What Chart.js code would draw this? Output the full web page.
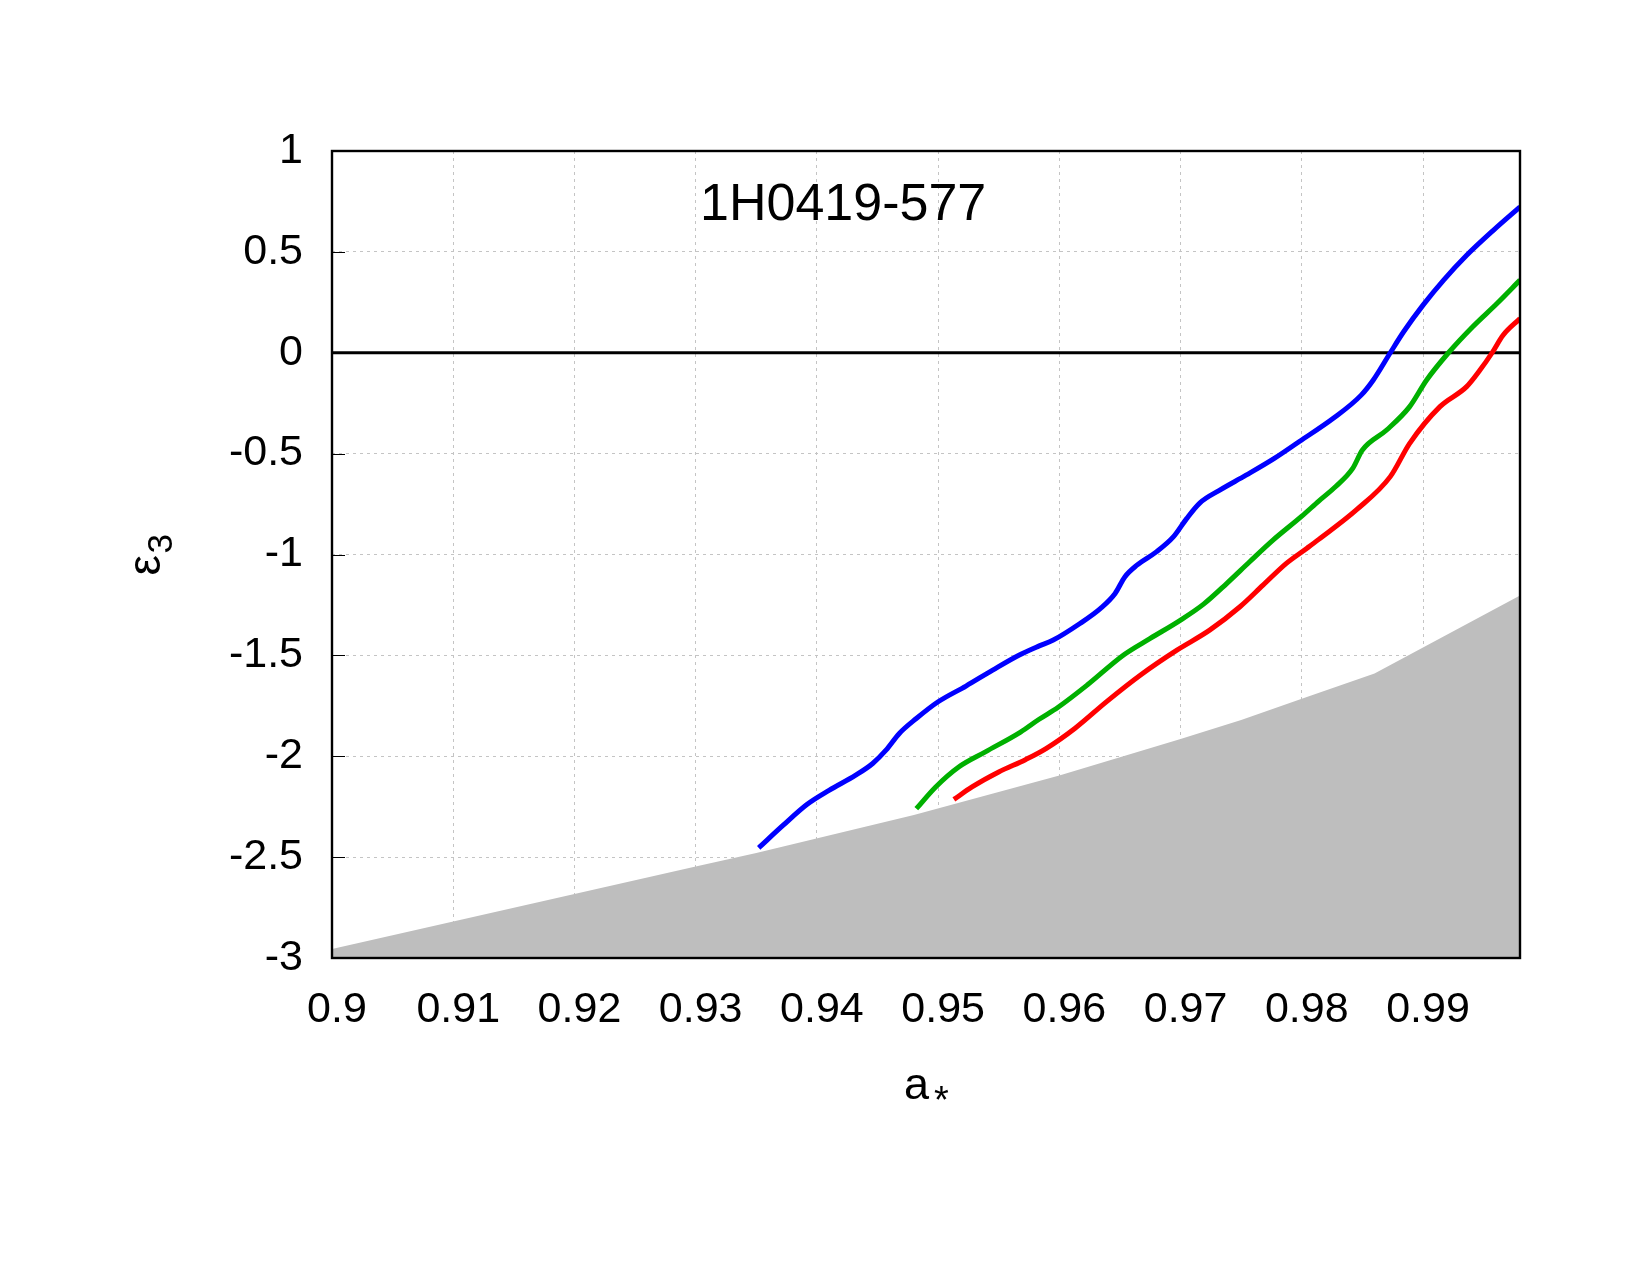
<!DOCTYPE html>
<html><head><meta charset="utf-8">
<script src="https://cdn.jsdelivr.net/npm/chart.js@4.4.1/dist/chart.umd.min.js"></script>
<style>html,body{margin:0;padding:0;background:#fff}#wrap{width:1650px;height:1275px;position:relative}canvas{display:block}</style>
</head><body><div id="wrap"><canvas id="c" width="1650" height="1275"></canvas></div>
<script>
// ---- data ----
const xTicks = [0.9, 0.91, 0.92, 0.93, 0.94, 0.95, 0.96, 0.97, 0.98, 0.99];
const yTicks = [-3, -2.5, -2, -1.5, -1, -0.5, 0, 0.5, 1];
const xMin = 0.9, xMax = 0.998, yMin = -3, yMax = 1;
const plotLabel = '1H0419-577';
const xTitleMain = 'a', xTitleSub = '*';
const yTitleMain = '\u03B5', yTitleSub = '3';

const blueX = [0.9352,0.9372,0.9392,0.9410,0.9432,0.9446,0.9457,0.9468,0.9482,0.9500,0.9523,0.9545,0.9567,0.9583,0.9595,0.9617,0.9634,0.9646,0.9654,0.9664,0.9680,0.9694,0.9705,0.9716,0.9732,0.9754,0.9777,0.9798,0.9826,0.9849,0.9859,0.9873,0.9884,0.9900,0.9917,0.9936,0.9958,0.9980];
const blueY = [-2.454,-2.343,-2.238,-2.169,-2.094,-2.036,-1.970,-1.887,-1.813,-1.730,-1.652,-1.573,-1.498,-1.454,-1.424,-1.342,-1.267,-1.193,-1.111,-1.053,-0.987,-0.913,-0.822,-0.744,-0.682,-0.607,-0.525,-0.440,-0.325,-0.210,-0.135,0.000,0.104,0.236,0.360,0.483,0.607,0.723];

const greenX = [0.9482,0.9498,0.9517,0.9539,0.9568,0.9583,0.9599,0.9623,0.9653,0.9675,0.9700,0.9719,0.9738,0.9757,0.9776,0.9800,0.9814,0.9828,0.9842,0.9850,0.9870,0.9889,0.9903,0.9921,0.9941,0.9961,0.9980];
const greenY = [-2.260,-2.152,-2.053,-1.978,-1.880,-1.818,-1.757,-1.647,-1.498,-1.416,-1.325,-1.246,-1.144,-1.036,-0.930,-0.810,-0.735,-0.663,-0.573,-0.482,-0.383,-0.267,-0.135,0.000,0.129,0.244,0.360];

const redX = [0.9513,0.9528,0.9550,0.9572,0.9589,0.9613,0.9639,0.9667,0.9697,0.9724,0.9749,0.9768,0.9787,0.9804,0.9814,0.9845,0.9873,0.9889,0.9914,0.9936,0.9947,0.9957,0.9966,0.9980];
const redY = [-2.214,-2.152,-2.078,-2.017,-1.962,-1.861,-1.729,-1.597,-1.474,-1.375,-1.259,-1.152,-1.045,-0.970,-0.925,-0.779,-0.614,-0.449,-0.267,-0.168,-0.086,0.000,0.087,0.170];

const greyX = [0.900,0.930,0.935,0.948,0.960,0.970,0.975,0.980,0.986,0.998];
const greyY = [-2.955,-2.546,-2.480,-2.291,-2.096,-1.915,-1.820,-1.715,-1.590,-1.203];

const zeroX = [xMin, xMax];
const zeroY = [0, 0];

// ---- build ----
const pts = (xs, ys) => xs.map((x, i) => ({x, y: ys[i]}));
const FONT = "'Liberation Sans', Arial, Helvetica, sans-serif";

const framePlugin = {
  id: 'frame',
  afterDatasetsDraw(chart) {
    const {ctx, chartArea: a, scales: {y}} = chart;
    ctx.save();
    ctx.strokeStyle = '#000';
    ctx.lineWidth = 1;
    yTicks.forEach(v => {
      const py = Math.round(y.getPixelForValue(v)) + 0.5;
      ctx.beginPath(); ctx.moveTo(a.left, py); ctx.lineTo(a.left + 13, py); ctx.stroke();
    });
    ctx.lineWidth = 2.4;
    ctx.strokeRect(a.left, a.top, a.right - a.left, a.bottom - a.top);
    ctx.restore();
  },
  afterDraw(chart) {
    const {ctx, chartArea: a} = chart;
    const cx = (a.left + a.right) / 2, cy = (a.top + a.bottom) / 2;
    ctx.save();
    ctx.fillStyle = '#000';
    ctx.textAlign = 'left';
    ctx.textBaseline = 'alphabetic';
    // in-plot label
    ctx.font = '52px ' + FONT;
    ctx.fillText(plotLabel, a.left + 368, a.top + 69);
    // x axis title: a with small asterisk subscript
    const bx = cx - 22, by = a.bottom + 141;
    ctx.font = '45px ' + FONT;
    ctx.fillText(xTitleMain, bx, by);
    const aw = ctx.measureText(xTitleMain).width;
    ctx.font = '38px ' + FONT;
    const m = ctx.measureText(xTitleSub);
    ctx.fillText(xTitleSub, bx + aw + 5, by + m.actualBoundingBoxAscent - (m.actualBoundingBoxAscent + m.actualBoundingBoxDescent) + 1);
    // y axis title: epsilon with subscript 3, rotated
    ctx.translate(a.left - 185, cy);
    ctx.rotate(-Math.PI / 2);
    ctx.font = '46px ' + FONT;
    ctx.fillText(yTitleMain, -21, 13);
    ctx.font = '35px ' + FONT;
    ctx.fillText(yTitleSub, 1, 25);
    ctx.restore();
  }
};

const lineDs = (xs, ys, color, order) => ({
  data: pts(xs, ys), borderColor: color, borderWidth: 5, pointRadius: 0,
  fill: false, cubicInterpolationMode: 'monotone', order
});

new Chart(document.getElementById('c'), {
  type: 'line',
  data: {
    datasets: [
      lineDs(blueX, blueY, '#0000ff', 1),
      lineDs(greenX, greenY, '#00b000', 2),
      lineDs(redX, redY, '#ff0000', 3),
      {data: pts(zeroX, zeroY), borderColor: '#000', borderWidth: 3, pointRadius: 0, fill: false, order: 8},
      {data: pts(greyX, greyY), borderColor: '#bebebe', borderWidth: 0, backgroundColor: '#bebebe', pointRadius: 0, fill: 'start', tension: 0, order: 9}
    ]
  },
  options: {
    responsive: false,
    animation: false,
    events: [],
    layout: {padding: {left: 129, top: 151, right: 130, bottom: 147}},
    plugins: {legend: {display: false}, tooltip: {enabled: false}},
    scales: {
      x: {
        type: 'linear', min: xMin, max: xMax,
        afterBuildTicks: s => { s.ticks = xTicks.map(v => ({value: v})); },
        afterFit: s => { s.height = 170; },
        ticks: {color: '#000', font: {family: FONT, size: 43}, padding: 26, labelOffset: 5, maxRotation: 0, autoSkip: false,
          callback: v => String(+v.toFixed(3))},
        grid: {color: '#c4c4c4', lineWidth: 1, drawTicks: false},
        border: {display: false, dash: [3, 4]},
        title: {display: false}
      },
      y: {
        type: 'linear', min: yMin, max: yMax,
        afterBuildTicks: s => { s.ticks = yTicks.map(v => ({value: v})); },
        afterFit: s => { s.width = 203; },
        ticks: {color: '#000', font: {family: FONT, size: 43}, padding: 29, autoSkip: false,
          callback: v => String(v)},
        grid: {color: '#c4c4c4', lineWidth: 1, drawTicks: false},
        border: {display: false, dash: [3, 4]},
        title: {display: false}
      }
    }
  },
  plugins: [framePlugin]
});
</script>
</body></html>
